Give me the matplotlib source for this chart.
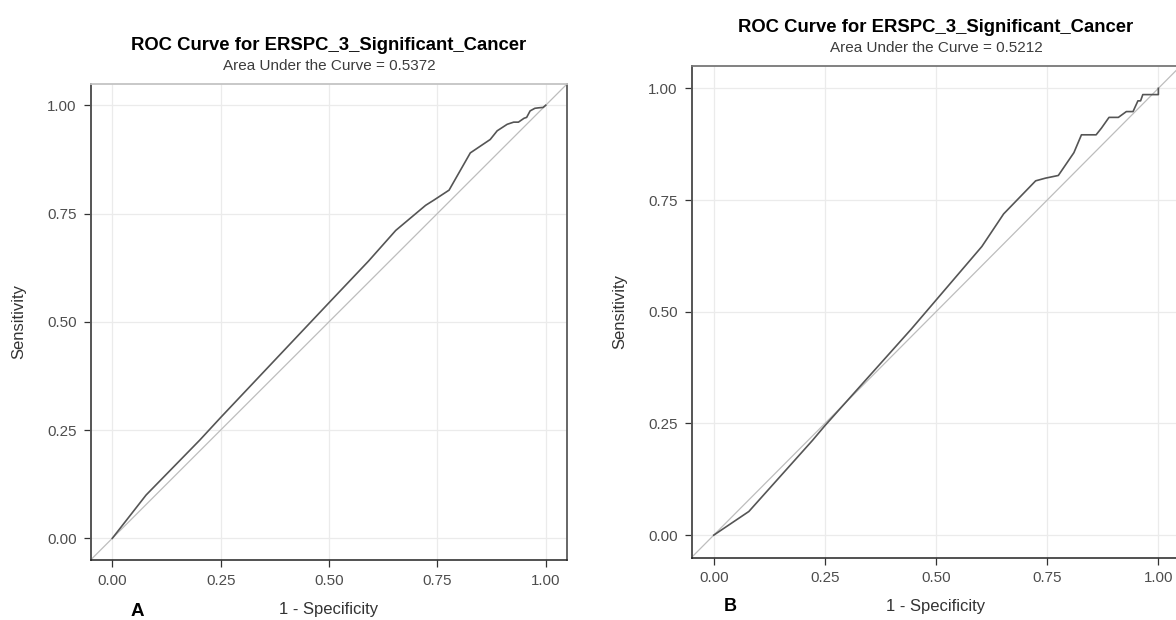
import matplotlib
matplotlib.use('Agg')
import matplotlib.pyplot as plt

plt.rcParams['font.family'] = ['Liberation Sans', 'DejaVu Sans']

W, H = 1176, 620

# ROC points
fpr_a = [0, 0.078, 0.202, 0.25, 0.5, 0.591, 0.654, 0.723, 0.742, 0.777, 0.826, 0.872,
         0.888, 0.911, 0.926, 0.937, 0.950, 0.956, 0.964, 0.975, 0.983, 0.994, 1.0]
tpr_a = [0, 0.100, 0.227, 0.279, 0.544, 0.640, 0.711, 0.769, 0.781, 0.804, 0.890, 0.921,
         0.941, 0.956, 0.961, 0.961, 0.970, 0.972, 0.987, 0.993, 0.994, 0.995, 1.0]

fpr_b = [0, 0.079, 0.222, 0.25, 0.445, 0.603, 0.652, 0.724, 0.746, 0.775, 0.810, 0.827,
         0.860, 0.872, 0.889, 0.910, 0.928, 0.943, 0.954, 0.960, 0.965, 1.0, 1.0]
tpr_b = [0, 0.053, 0.212, 0.245, 0.462, 0.646, 0.719, 0.793, 0.799, 0.805, 0.856, 0.896,
         0.896, 0.911, 0.935, 0.935, 0.948, 0.948, 0.972, 0.972, 0.986, 0.986, 1.0]

title = 'ROC Curve for ERSPC_3_Significant_Cancer'
auc_a = 0.5372
auc_b = 0.5212
ticks = [0, 0.25, 0.5, 0.75, 1.0]
tick_labels = ['0.00', '0.25', '0.50', '0.75', '1.00']


def px_axes(fig, x0, x1, ytop, ybot):
    return fig.add_axes([x0 / W, 1 - ybot / H, (x1 - x0) / W, (ybot - ytop) / H])


def roc_panel(ax, fpr, tpr, auc, top_col):
    ax.set_xlim(-0.05, 1.05)
    ax.set_ylim(-0.05, 1.05)
    ax.set_xticks(ticks)
    ax.set_yticks(ticks)
    ax.set_xticklabels(tick_labels)
    ax.set_yticklabels(tick_labels)
    ax.grid(True, color='#ebebeb', linewidth=0.9)
    ax.set_axisbelow(True)
    ax.axline((0, 0), slope=1, color='#bdbdbd', linewidth=0.9)
    ax.plot(fpr, tpr, color='#555555', linewidth=1.2)

    ax.tick_params(length=5, width=0.9, pad=5, color='#333333',
                   labelsize=10.9, labelcolor='#4d4d4d')
    ax.spines['left'].set(color='#555555', linewidth=1.4)
    ax.spines['bottom'].set(color='#222222', linewidth=1.1)
    ax.spines['right'].set(color='#666666', linewidth=1.4)
    ax.spines['top'].set(color=top_col, linewidth=1.3)

    ax.set_xlabel('1 - Specificity', fontsize=12, color='#333333', labelpad=10)
    ax.set_ylabel('Sensitivity', fontsize=12, color='#333333', labelpad=15)

    ax.annotate(title, xy=(0.5, 1), xycoords='axes fraction', xytext=(0, 34),
                textcoords='offset pixels', ha='center', va='baseline',
                fontsize=13.3, fontweight='bold', color='black')
    ax.annotate('Area Under the Curve = %.4f' % auc, xy=(0.5, 1), xycoords='axes fraction',
                xytext=(0, 13.5), textcoords='offset pixels', ha='center', va='baseline',
                fontsize=11, color='#3c3c3c')


fig = plt.figure(figsize=(W / 100, H / 100), dpi=100)
fig.patch.set_facecolor('white')

ax_a = px_axes(fig, 90.6, 567.4, 83.6, 560)
roc_panel(ax_a, fpr_a, tpr_a, auc_a, '#c4c4c4')

ax_b = px_axes(fig, 691.5, 1180.6, 66, 557.5)
roc_panel(ax_b, fpr_b, tpr_b, auc_b, '#777777')

# panel letters, A sits at the very bottom edge
fig.text(137 / W, 1 - 603 / H, 'A', ha='center', va='top', fontsize=13.5, fontweight='bold')
fig.text(730 / W, 1 - 598 / H, 'B', ha='center', va='top', fontsize=13, fontweight='bold')

fig.savefig('out.png', dpi=100)
